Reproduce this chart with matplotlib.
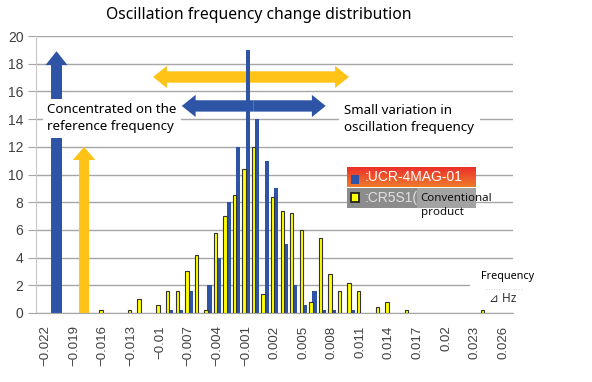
import matplotlib
matplotlib.use('Agg')
import matplotlib.pyplot as plt
from matplotlib.patches import FancyArrow, Rectangle
import numpy as np

plt.rcParams['font.family'] = ['Noto Sans', 'DejaVu Sans']

# frequency change bins (Hz)
bins = [-0.022, -0.021, -0.020, -0.019, -0.018, -0.017, -0.016, -0.015, -0.014, -0.013,
        -0.012, -0.011, -0.010, -0.009, -0.008, -0.007, -0.006, -0.005, -0.004, -0.003,
        -0.002, -0.001, 0.000, 0.001, 0.002, 0.003, 0.004, 0.005, 0.006, 0.007,
        0.008, 0.009, 0.010, 0.011, 0.012, 0.013, 0.014, 0.015, 0.016, 0.017,
        0.018, 0.019, 0.020, 0.021, 0.022, 0.023, 0.024, 0.025, 0.026]

# UCR-4MAG-01 (blue)
ucr = [0, 0, 0, 0, 0, 0, 0, 0, 0, 0,
       0, 0, 0, 0.2, 0.2, 1.6, 0, 2.0, 4.0, 8.0,
       12.0, 19.0, 14.0, 11.0, 9.0, 5.0, 2.0, 0.6, 1.6, 0.2,
       0.2, 0, 0.2, 0, 0, 0, 0, 0, 0, 0,
       0, 0, 0, 0, 0, 0, 0, 0, 0]

# CR5S1 conventional product (yellow)
cr5 = [0, 0, 0, 0, 0, 0, 0.2, 0, 0, 0.2,
       1.0, 0, 0.6, 1.6, 1.6, 3.0, 4.2, 0.2, 5.8, 7.0,
       8.5, 10.4, 12.0, 1.4, 8.4, 7.4, 7.2, 6.0, 0.8, 5.4,
       2.8, 1.6, 2.2, 1.6, 0, 0.4, 0.8, 0, 0.2, 0,
       0, 0, 0, 0, 0, 0, 0.2, 0, 0]

BLUE = '#2E54A6'
GOLD = '#FFC317'
W, H = 592, 382

fig = plt.figure(figsize=(W / 100, H / 100), dpi=100)
ax = fig.add_axes([36 / W, 1 - 313 / H, 477 / W, 277 / H])

x = np.arange(len(bins))
u = np.array(ucr)
c = np.array(cr5)
ax.bar(x[u > 0] + 0.19, u[u > 0], width=0.44, color=BLUE, zorder=4)
ax.bar(x[c > 0] - 0.19, c[c > 0], width=0.36, color='#FFFF00',
       edgecolor='#333333', linewidth=0.8, zorder=5)

ax.set_xlim(-1, 49)
ax.set_ylim(0, 20)
ax.set_yticks(range(0, 21, 2))
ax.set_xticks(x[::3])
ax.set_xticklabels([f"{b:g}".replace('-', '\u2212') for b in bins[::3]],
                   rotation=90, fontsize=9.5, color='#404040', family='Liberation Sans')
ax.tick_params(axis='x', length=0, pad=9)
ax.tick_params(axis='y', length=6, color='#A6A6A6', labelsize=10, labelcolor='#404040', pad=3)
for t in ax.get_yticklabels():
    t.set_family('Liberation Sans')
ax.yaxis.grid(True, color='#A6A6A6', linewidth=1.0)
ax.set_axisbelow(True)
for s in ['top', 'right']:
    ax.spines[s].set_visible(False)
ax.spines['left'].set_color('#C8C8C8')
ax.spines['bottom'].set_color('#A6A6A6')

# arrows
ax.add_patch(FancyArrow(1.15, 0, 0, 18.9, width=1.15, head_width=2.3, head_length=1.0,
                        length_includes_head=True, color=BLUE, lw=0, zorder=2))
ax.add_patch(FancyArrow(4.04, 0, 0, 12.0, width=1.05, head_width=2.35, head_length=0.95,
                        length_includes_head=True, color=GOLD, lw=0, zorder=2))
for xa, xb, yc, col in [(11.27, 31.8, 17.04, GOLD), (14.28, 29.37, 14.95, BLUE)]:
    xm = (xa + xb) / 2
    for end in (xa, xb):
        ax.add_patch(FancyArrow(xm, yc, end - xm, 0, width=0.82, head_width=1.6,
                                head_length=1.45, length_includes_head=True,
                                color=col, lw=0, zorder=2))

ax.text(0.2, 14.05, "Concentrated on the\nreference frequency", fontsize=9.6,
        ha='left', va='center', linespacing=1.4, zorder=3,
        bbox=dict(facecolor='white', edgecolor='none', pad=3))
ax.text(31.3, 14.03, "Small variation in\noscillation frequency", fontsize=9.6,
        ha='left', va='center', linespacing=1.4, zorder=3,
        bbox=dict(facecolor='white', edgecolor='none', pad=4))

# frequency unit label
ax.add_patch(Rectangle((44.5, 1.0), 4.5, 2.6, facecolor='white', edgecolor='none',
                       zorder=1, clip_on=False))
ax.text(45.6, 2.6, "Frequency", fontsize=7.8, ha='left', va='center', clip_on=False, zorder=3)
ax.plot([46.2, 50.0], [1.74, 1.74], ls=(0, (1, 2)), color='#C0C0C0', lw=0.6,
        clip_on=False, zorder=3)
ax.text(46.5, 1.08, "\u22bf Hz", fontsize=8.5, ha='left', va='center', clip_on=False,
        color='#333333', zorder=3)

# title
fig.text(259 / W, 1 - 15 / H, "Oscillation frequency change distribution", fontsize=11.3,
         ha='center', va='center')

# legend box
lg = fig.add_axes([347 / W, 1 - 208 / H, 129 / W, 41 / H])
lg.set_xlim(0, 1)
lg.set_ylim(0, 1)
lg.axis('off')
grad = np.linspace(0, 1, 50).reshape(-1, 1)
lg.imshow(grad, extent=[0, 1, 0.5, 1], aspect='auto', origin='upper',
          cmap=matplotlib.colors.LinearSegmentedColormap.from_list('ro', ['#EC2C2A', '#EE7B2C']))
lg.add_patch(Rectangle((0, 0), 1, 0.5, facecolor='#8C8C8C', edgecolor='none'))
lg.add_patch(Rectangle((0.545, 0), 0.455, 0.5, facecolor='#A3A3A3', edgecolor='none'))
lg.add_patch(Rectangle((0.03, 0.58), 0.065, 0.22, facecolor=BLUE, edgecolor='none'))
lg.add_patch(Rectangle((0.03, 0.14), 0.065, 0.22, facecolor='#FFFF00', edgecolor='#222222', lw=1.3))
lg.text(0.135, 0.745, ":UCR-4MAG-01", color='white', fontsize=10, family='Liberation Sans',
        ha='left', va='center')
lg.text(0.135, 0.25, ":CR5S1(", color='#E0E0E0', fontsize=10, family='Liberation Sans',
        ha='left', va='center')
lg.text(0.57, 0.06, "Conventional\nproduct", color='#111111', fontsize=8.3, ha='left',
        va='center', linespacing=1.35, clip_on=False)

fig.savefig('out.png', dpi=100)
